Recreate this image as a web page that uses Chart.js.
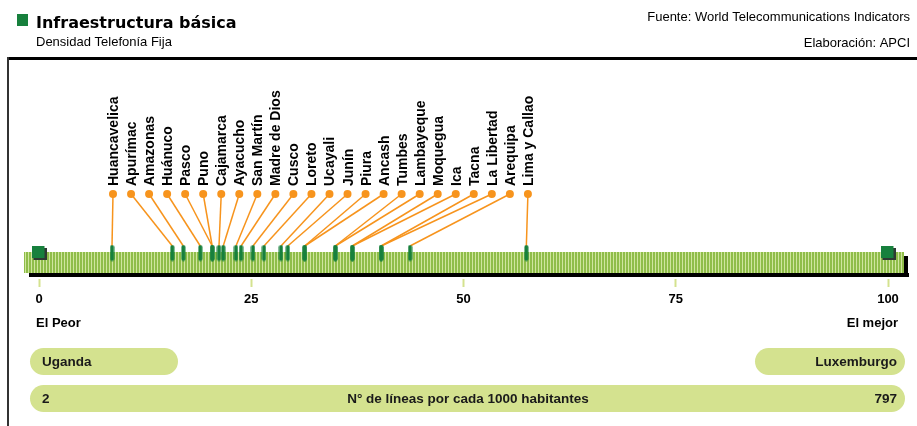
<!DOCTYPE html>
<html>
<head>
<meta charset="utf-8">
<script src="https://cdn.jsdelivr.net/npm/chart.js@4.4.1/dist/chart.umd.min.js"></script>
<style>
  html, body { margin: 0; padding: 0; background: #fff; }
  #wrap { width: 917px; height: 426px; }
</style>
</head>
<body>
<div id="wrap"><canvas id="chart" width="917" height="426"></canvas></div>
<script>
// regiones del Perú, de menor a mayor densidad (índice 0-100)
const regions = [
  "Huancavelica", "Apurímac", "Amazonas", "Huánuco", "Pasco", "Puno",
  "Cajamarca", "Ayacucho", "San Martín", "Madre de Dios", "Cusco", "Loreto",
  "Ucayali", "Junín", "Piura", "Ancash", "Tumbes", "Lambayeque", "Moquegua",
  "Ica", "Tacna", "La Libertad", "Arequipa", "Lima y Callao"
];
const indexValues = [
  8.6, 15.7, 17.0, 19.0, 20.4, 20.4,
  21.2, 21.7, 23.2, 23.8, 25.2, 26.5,
  28.5, 29.3, 31.3, 31.3, 34.9, 34.9, 36.9,
  36.9, 40.3, 40.3, 43.7, 57.4
];
const scaleTicks = [0, 25, 50, 75, 100];
const endValues = [0, 100];
const endLabels = ["El Peor", "El mejor"];
const endCountries = ["Uganda", "Luxemburgo"];
const endLineCounts = [2, 797];
const unitLabel = "N° de líneas por cada 1000 habitantes";

const GREEN = "#17803d";
const ORANGE = "#f7941d";
const PILL = "#d4e28f";
const SANS = '"Liberation Sans", Arial, sans-serif';

// small images used as point styles
function markerImage() {
  const c = document.createElement("canvas");
  c.width = 5; c.height = 17;
  const g = c.getContext("2d");
  g.fillStyle = GREEN;
  g.beginPath();
  g.roundRect(0.5, 0.5, 4, 16, 2);
  g.fill();
  return c;
}
function endSquareImage() {
  const c = document.createElement("canvas");
  c.width = 15; c.height = 14;
  const g = c.getContext("2d");
  g.fillStyle = "#2f3a33";
  g.fillRect(2, 2, 13, 12);
  g.fillStyle = GREEN;
  g.fillRect(0, 0, 13, 12);
  return c;
}

function pill(ctx, x, y, w, h) {
  ctx.beginPath();
  ctx.roundRect(x, y, w, h, h / 2);
  ctx.fill();
}

const decor = {
  id: "decor",
  beforeDraw(chart) {
    const ctx = chart.ctx;
    ctx.save();
    ctx.fillStyle = "#fff";
    ctx.fillRect(0, 0, chart.width, chart.height);

    // cabecera
    ctx.fillStyle = GREEN;
    ctx.fillRect(17, 14, 11, 12);
    ctx.fillStyle = "#000";
    ctx.font = 'bold 16px "DejaVu Sans", sans-serif';
    ctx.textBaseline = "alphabetic";
    ctx.textAlign = "left";
    ctx.fillText("Infraestructura básica", 36, 28);
    ctx.font = "13px " + SANS;
    ctx.fillText("Densidad Telefonía Fija", 36, 46);
    ctx.textAlign = "right";
    ctx.fillText("Fuente: World Telecommunications Indicators", 910, 21);
    ctx.fillText("Elaboración: APCI", 910, 47);
    ctx.fillRect(8, 57, 909, 3);
    ctx.fillStyle = "#333";
    ctx.fillRect(7, 57, 2, 369);

    // textos extremos
    ctx.fillStyle = "#000";
    ctx.font = "bold 13px " + SANS;
    ctx.textAlign = "left";
    ctx.fillText(endLabels[0], 36, 327);
    ctx.textAlign = "right";
    ctx.fillText(endLabels[1], 898, 327);

    // píldoras
    ctx.fillStyle = PILL;
    pill(ctx, 30, 348, 148, 27);
    pill(ctx, 755, 348, 150, 27);
    pill(ctx, 30, 385, 875, 27);
    ctx.fillStyle = "#1a1a1a";
    ctx.font = "bold 13.5px " + SANS;
    ctx.textBaseline = "middle";
    ctx.textAlign = "left";
    ctx.fillText(endCountries[0], 42, 362);
    ctx.fillText(String(endLineCounts[0]), 42, 399);
    ctx.textAlign = "right";
    ctx.fillText(endCountries[1], 897, 362);
    ctx.fillText(String(endLineCounts[1]), 897, 399);
    ctx.textAlign = "center";
    ctx.fillText(unitLabel, 468, 399);
    ctx.restore();
  },
  beforeDatasetsDraw(chart) {
    const ctx = chart.ctx;
    const x = chart.scales.x, y = chart.scales.y;
    const y0 = y.getPixelForValue(0);
    const left = x.left - 15, right = x.right + 16;
    const top = y0 - 1, bottom = y0 + 20;
    ctx.save();
    // sombra de la barra
    ctx.fillStyle = "#000";
    ctx.fillRect(left + 5, bottom, right - left, 4);
    ctx.fillRect(right, top + 4, 4, bottom - top);
    // barra rayada
    ctx.fillStyle = "#8fbd49";
    ctx.fillRect(left, top, right - left, bottom - top);
    ctx.fillStyle = "#cfe59e";
    for (let px = left + 1; px < right; px += 3) ctx.fillRect(px, top, 1, bottom - top);

    // líneas guía y puntos de las etiquetas
    const slot0 = 113, slotStep = 18.04, dotY = 194;
    ctx.strokeStyle = ORANGE;
    ctx.lineWidth = 1.5;
    regions.forEach((r, i) => {
      const lx = slot0 + i * slotStep;
      const mx = x.getPixelForValue(indexValues[i]);
      ctx.beginPath();
      ctx.moveTo(lx, dotY);
      ctx.lineTo(mx, y0 - 7);
      ctx.stroke();
    });
    ctx.font = "bold 14px " + SANS;
    ctx.textAlign = "left";
    ctx.textBaseline = "alphabetic";
    regions.forEach((r, i) => {
      const lx = slot0 + i * slotStep;
      ctx.fillStyle = ORANGE;
      ctx.beginPath();
      ctx.arc(lx, dotY, 4, 0, Math.PI * 2);
      ctx.fill();
      ctx.save();
      ctx.translate(lx + 5, 186);
      ctx.rotate(-Math.PI / 2);
      ctx.fillStyle = "#000";
      ctx.fillText(r, 0, 0);
      ctx.restore();
    });
    ctx.restore();
  }
};

new Chart(document.getElementById("chart"), {
  type: "scatter",
  data: {
    datasets: [
      {
        label: "Regiones",
        data: indexValues.map(v => ({ x: v, y: 0 })),
        pointStyle: markerImage(),
        clip: false
      },
      {
        label: "Extremos",
        data: endValues.map(v => ({ x: v, y: 0 })),
        pointStyle: endSquareImage(),
        clip: false
      }
    ]
  },
  options: {
    responsive: false,
    animation: false,
    devicePixelRatio: 1,
    layout: { padding: { left: 39, right: 29, top: 227, bottom: 117 } },
    plugins: { legend: { display: false }, tooltip: { enabled: false } },
    scales: {
      x: {
        type: "linear",
        min: 0,
        max: 100,
        afterBuildTicks: s => { s.ticks = scaleTicks.map(v => ({ value: v })); },
        afterFit: s => { s.height = 30; },
        border: { display: false },
        grid: {
          drawOnChartArea: false,
          drawTicks: true,
          tickLength: 8,
          tickColor: "#d4e28f",
          tickWidth: 2
        },
        ticks: {
          color: "#000",
          padding: 5,
          font: { family: SANS, size: 13, weight: "bold" }
        }
      },
      y: { min: -1, max: 1, display: false }
    }
  },
  plugins: [decor]
});
</script>
</body>
</html>
